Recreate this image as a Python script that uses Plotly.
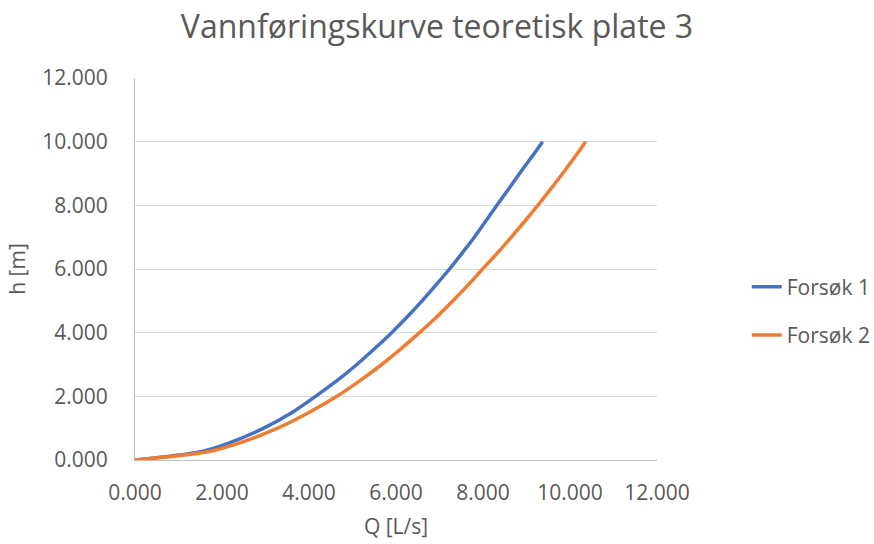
import plotly.graph_objects as go

# Water level h [m] and discharge Q [L/s] for the two runs
h_levels = [0, 0.25, 0.5, 1, 1.5, 2, 2.5, 3, 3.5, 4, 4.5, 5, 5.5, 6, 6.5, 7, 7.5, 8, 8.5, 9, 9.5, 10]
q_forsok1 = [0, 1.48, 2.09, 2.96, 3.62, 4.15, 4.65, 5.10, 5.51, 5.90, 6.26, 6.60, 6.92, 7.23,
             7.52, 7.80, 8.06, 8.32, 8.58, 8.84, 9.11, 9.37]
q_forsok2 = [0, 1.64, 2.32, 3.28, 4.01, 4.64, 5.18, 5.67, 6.12, 6.54, 6.94, 7.31, 7.66, 7.99,
             8.33, 8.65, 8.96, 9.26, 9.55, 9.83, 10.10, 10.36]
series_names = ["Forsøk 1", "Forsøk 2"]
series_colors = ["#4472C4", "#ED7D31"]

FONT = "Open Sans"
GREY = "#595959"

fig = go.Figure()
for name, q, color in zip(series_names, [q_forsok1, q_forsok2], series_colors):
    fig.add_trace(go.Scatter(
        x=q, y=h_levels, name=name, mode="lines",
        line=dict(color=color, width=3.5, shape="spline", smoothing=0.8),
        legendgroup=name,
    ))

fig.update_layout(
    width=874, height=544,
    paper_bgcolor="white", plot_bgcolor="white",
    margin=dict(l=135, r=217, t=78, b=84, autoexpand=False),
    font=dict(family=FONT, color=GREY, size=21),
    title=dict(text="Vannføringskurve teoretisk plate 3", x=0.5, xanchor="center",
               y=0.95, yanchor="middle", font=dict(size=32, color=GREY, family=FONT)),
    showlegend=True,
    legend=dict(x=1.172, xanchor="left", y=0.39, yanchor="middle",
                font=dict(size=21, color=GREY), tracegroupgap=18,
                bgcolor="rgba(0,0,0,0)"),
    xaxis=dict(range=[0, 12], dtick=2, tick0=0, tickformat=".3f",
               showgrid=False, zeroline=False, showline=True, linecolor="#BFBFBF", linewidth=1,
               ticks="", ticklabelstandoff=14,
               title=dict(text="Q [L/s]", font=dict(size=21, color=GREY), standoff=14)),
    yaxis=dict(range=[0, 12], dtick=2, tick0=0, tickformat=".3f",
               showgrid=True, gridcolor="#D9D9D9", gridwidth=1,
               zeroline=False, showline=True, linecolor="#BFBFBF", linewidth=1,
               ticks="", ticklabelstandoff=22,
               title=dict(text="h [m]", font=dict(size=21, color=GREY), standoff=10)),
)

fig.write_html("out.html")
